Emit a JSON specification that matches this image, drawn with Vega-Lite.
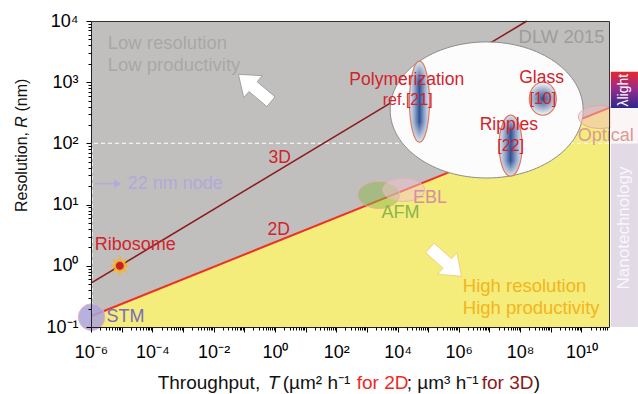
{
  "$schema": "https://vega.github.io/schema/vega-lite/v6.json",
  "width": 518,
  "height": 306,
  "autosize": {"type": "none"},
  "padding": {"left": 91, "top": 21, "right": 29, "bottom": 67},
  "background": "white",
  "config": {"view": {"fill": "#c1bfbe", "stroke": null}, "font": "Liberation Sans", "axis": {"grid": false}},
  "datasets": {
    "lines": [
      {"kind": "2D", "T": 1e-6, "R": 0.15},
      {"kind": "2D", "T": 7.94e10, "R": 380},
      {"kind": "3D", "T": 1e-6, "R": 0.52},
      {"kind": "3D", "T": 1.66e8, "R": 10000}
    ],
    "blobs": [
      {"name": "big", "T": 8.1e6, "R": 352},
      {"name": "poly", "T": 5.2e4, "R": 480},
      {"name": "glass", "T": 5.5e8, "R": 537},
      {"name": "ripples", "T": 4.9e7, "R": 92},
      {"name": "afm", "T": 2460, "R": 14.4},
      {"name": "ebl", "T": 1.6e4, "R": 17.4},
      {"name": "optical", "T": 4e10, "R": 270},
      {"name": "stm", "T": 1.05e-6, "R": 0.145},
      {"name": "ribo", "T": 8.7e-6, "R": 1.0},
      {"name": "arrowUL", "T": 0.219, "R": 803},
      {"name": "arrowDR", "T": 3.74e5, "R": 1.15},
      {"name": "nodehead", "T": 7.46e-6, "R": 22}
    ],
    "bands": [
      {"band": "light", "T0": 9.1e10, "T1": 7e11, "R0": 380, "R1": 1480},
      {"band": "optical", "T0": 9.1e10, "T1": 7e11, "R0": 100, "R1": 380},
      {"band": "nano", "T0": 9.1e10, "T1": 7e11, "R0": 0.1, "R1": 100}
    ],
    "labels": [
      {"g": "low", "text": "Low resolution", "T": 3.5e-6, "R": 4370},
      {"g": "low", "text": "Low productivity", "T": 3.5e-6, "R": 1900},
      {"g": "high", "text": "High resolution", "T": 1.35e6, "R": 0.468},
      {"g": "high", "text": "High productivity", "T": 1.35e6, "R": 0.204},
      {"g": "dlw", "text": "DLW 2015", "T": 5.7e10, "R": 5500},
      {"g": "redc", "text": "3D", "T": 1.44, "R": 57},
      {"g": "redc", "text": "2D", "T": 1.33, "R": 3.85},
      {"g": "redc", "text": "Polymerization", "T": 2e4, "R": 1090},
      {"g": "redc", "text": "Glass", "T": 5e8, "R": 1170},
      {"g": "redc", "text": "Ripples", "T": 4.3e7, "R": 200},
      {"g": "refs", "text": "ref.[21]", "T": 2.15e4, "R": 513},
      {"g": "refs", "text": "[10]", "T": 5.5e8, "R": 540},
      {"g": "refs", "text": "[22]", "T": 4.9e7, "R": 92},
      {"g": "ribo", "text": "Ribosome", "T": 1.32e-6, "R": 2.19},
      {"g": "stm", "text": "STM", "T": 3.2e-6, "R": 0.146},
      {"g": "node", "text": "22 nm node", "T": 1.58e-5, "R": 22},
      {"g": "ebl", "text": "EBL", "T": 3.2e4, "R": 12.9},
      {"g": "afm", "text": "AFM", "T": 1.26e4, "R": 7.3},
      {"g": "opt", "text": "Optical", "T": 7.6e9, "R": 132},
      {"g": "nano", "text": "Nanotechnology", "T": 2.4e11, "R": 4.15},
      {"g": "light", "text": "λlight", "T": 2.4e11, "R": 740},
      {"g": "xk", "text": "Throughput,", "T": 1.5e-4, "R": 0.0122},
      {"g": "xi", "text": "T", "T": 0.582, "R": 0.0122},
      {"g": "xk", "text": "(µm² h⁻¹", "T": 1.8, "R": 0.0122},
      {"g": "xr", "text": "for 2D", "T": 467, "R": 0.0122},
      {"g": "xk", "text": "; µm³ h⁻¹", "T": 2.0e4, "R": 0.0122},
      {"g": "xd", "text": "for 3D", "T": 5.6e6, "R": 0.0122},
      {"g": "xk", "text": ")", "T": 2.8e8, "R": 0.0122},
      {"g": "yk", "text": "Resolution,", "T": 5.5e-9, "R": 7.57},
      {"g": "yi", "text": "R", "T": 5.5e-9, "R": 181},
      {"g": "yk", "text": "(nm)", "T": 5.5e-9, "R": 331}
    ]
  },
  "resolve": {"axis": {"x": "independent", "y": "independent"}},
  "layer": [
    {
      "data": {"name": "lines"},
      "transform": [{"filter": "datum.kind == '2D'"}],
      "mark": {"type": "area", "color": "#f4ec7b", "opacity": 1},
      "encoding": {
        "x": {"field": "T", "type": "quantitative", "scale": {"type": "log", "domain": [1e-6, 7.94e10], "nice": false},
          "axis": {"orient": "bottom", "values": [1e-6, 1e-5, 1e-4, 1e-3, 1e-2, 1e-1, 1, 10, 100, 1e3, 1e4, 1e5, 1e6, 1e7, 1e8, 1e9, 1e10],
            "labelExpr": "round(log(datum.value)/LN10) % 2 == 0 ? '10' + replace(replace(replace(replace(replace(replace(replace(replace(replace(replace(replace(toString(round(log(datum.value)/LN10)),'-','⁻'),'0','⁰'),'1','¹'),'2','²'),'3','³'),'4','⁴'),'5','⁵'),'6','⁶'),'7','⁷'),'8','⁸'),'9','⁹') : ''",
            "tickSize": 5, "tickColor": "#000", "domainColor": "#222", "labelFontSize": 18, "labelColor": "#000", "labelPadding": 11,
            "labelOverlap": false, "labelFlush": false, "labelBound": false, "title": null, "zindex": 1, "grid": false, "labelFont": "Liberation Sans"}},
        "y": {"field": "R", "type": "quantitative", "scale": {"type": "log", "domain": [0.1, 10000], "nice": false},
          "axis": {"orient": "left", "values": [0.1, 1, 10, 100, 1000, 10000],
            "labelExpr": "'10' + replace(replace(replace(replace(replace(replace(replace(replace(replace(replace(replace(toString(round(log(datum.value)/LN10)),'-','⁻'),'0','⁰'),'1','¹'),'2','²'),'3','³'),'4','⁴'),'5','⁵'),'6','⁶'),'7','⁷'),'8','⁸'),'9','⁹')",
            "tickSize": 5, "tickColor": "#000", "domainColor": "#222", "labelFontSize": 18, "labelColor": "#000", "labelPadding": 8,
            "labelOverlap": false, "labelFlush": false, "labelBound": false, "title": null, "zindex": 1, "grid": false, "labelFont": "Liberation Sans"}},
        "y2": {"datum": 0.1}
      }
    },
    {
      "data": {"values": [{"R": 100}]},
      "mark": {"type": "rule", "color": "#f2f2f2", "strokeDash": [4, 3], "strokeWidth": 1.2},
      "encoding": {"y": {"field": "R", "type": "quantitative", "scale": {"type": "log", "domain": [0.1, 10000], "nice": false}, "axis": null}}
    },
    {
      "data": {"values": [{"T": 1.1e-6, "R": 0.1, "R2": 100}]},
      "mark": {"type": "rule", "color": "#f2f2f2", "strokeDash": [4, 3], "strokeWidth": 1.2},
      "encoding": {
        "x": {"field": "T", "type": "quantitative", "scale": {"type": "log", "domain": [1e-6, 7.94e10], "nice": false}, "axis": null},
        "y": {"field": "R", "type": "quantitative", "scale": {"type": "log", "domain": [0.1, 10000], "nice": false}, "axis": null},
        "y2": {"field": "R2"}
      }
    },
    {
      "data": {"name": "lines"},
      "transform": [{"filter": "datum.kind == '2D'"}],
      "mark": {"type": "line", "color": "#ee3124", "strokeWidth": 2},
      "encoding": {
        "x": {"field": "T", "type": "quantitative", "scale": {"type": "log", "domain": [1e-6, 7.94e10], "nice": false},
          "axis": {"orient": "bottom", "values": [2e-6,3e-6,4e-6,5e-6,6e-6,7e-6,8e-6,9e-6,2e-5,3e-5,4e-5,5e-5,6e-5,7e-5,8e-5,9e-5,2e-4,3e-4,4e-4,5e-4,6e-4,7e-4,8e-4,9e-4,2e-3,3e-3,4e-3,5e-3,6e-3,7e-3,8e-3,9e-3,2e-2,3e-2,4e-2,5e-2,6e-2,7e-2,8e-2,9e-2,0.2,0.3,0.4,0.5,0.6,0.7,0.8,0.9,2,3,4,5,6,7,8,9,20,30,40,50,60,70,80,90,200,300,400,500,600,700,800,900,2e3,3e3,4e3,5e3,6e3,7e3,8e3,9e3,2e4,3e4,4e4,5e4,6e4,7e4,8e4,9e4,2e5,3e5,4e5,5e5,6e5,7e5,8e5,9e5,2e6,3e6,4e6,5e6,6e6,7e6,8e6,9e6,2e7,3e7,4e7,5e7,6e7,7e7,8e7,9e7,2e8,3e8,4e8,5e8,6e8,7e8,8e8,9e8,2e9,3e9,4e9,5e9,6e9,7e9,8e9,9e9,2e10,3e10,4e10,5e10,6e10,7e10],
            "labels": false, "tickSize": 3, "tickColor": "#000", "domain": false, "title": null, "zindex": 1, "grid": false}},
        "y": {"field": "R", "type": "quantitative", "scale": {"type": "log", "domain": [0.1, 10000], "nice": false},
          "axis": {"orient": "left", "values": [0.2,0.3,0.4,0.5,0.6,0.7,0.8,0.9,2,3,4,5,6,7,8,9,20,30,40,50,60,70,80,90,200,300,400,500,600,700,800,900,2000,3000,4000,5000,6000,7000,8000,9000],
            "labels": false, "tickSize": 3, "tickColor": "#000", "domain": false, "title": null, "zindex": 1, "grid": false}}
      }
    },
    {
      "data": {"name": "lines"},
      "transform": [{"filter": "datum.kind == '3D'"}],
      "mark": {"type": "line", "color": "#8a1b1b", "strokeWidth": 1.6},
      "encoding": {
        "x": {"field": "T", "type": "quantitative", "scale": {"type": "log", "domain": [1e-6, 7.94e10], "nice": false},
          "axis": {"orient": "top", "ticks": false, "labels": false, "domain": true, "domainColor": "#333", "title": null, "zindex": 1, "grid": false}},
        "y": {"field": "R", "type": "quantitative", "scale": {"type": "log", "domain": [0.1, 10000], "nice": false},
          "axis": {"orient": "right", "ticks": false, "labels": false, "domain": true, "domainColor": "#333", "title": null, "zindex": 1, "grid": false}}
      }
    },
    {
      "data": {"name": "blobs"},
      "transform": [{"filter": "datum.name == 'big'"}],
      "mark": {"type": "point", "shape": "M-1,0C-1,-0.389,-0.552,-0.705,0,-0.705C0.552,-0.705,1,-0.389,1,0C1,0.389,0.552,0.705,0,0.705C-0.552,0.705,-1,0.389,-1,0Z", "size": 37249, "filled": true, "fill": "#fcfcfd", "stroke": "#8c8c8c", "strokeWidth": 1, "opacity": 1},
      "encoding": {
        "x": {"field": "T", "type": "quantitative", "scale": {"type": "log", "domain": [1e-6, 7.94e10], "nice": false}, "axis": null},
        "y": {"field": "R", "type": "quantitative", "scale": {"type": "log", "domain": [0.1, 10000], "nice": false}, "axis": null}
      }
    },
    {
      "data": {"name": "blobs"},
      "transform": [{"filter": "datum.name == 'poly'"}],
      "mark": {"type": "point", "shape": "M-0.247,0C-0.247,-0.552,-0.136,-1,0,-1C0.136,-1,0.247,-0.552,0.247,0C0.247,0.552,0.136,1,0,1C-0.136,1,-0.247,0.552,-0.247,0Z", "size": 6561, "filled": true,
        "fill": {"gradient": "linear", "x1": 0, "y1": 0, "x2": 1, "y2": 0, "stops": [{"offset": 0, "color": "#e4e9f2"}, {"offset": 0.22, "color": "#9fb2d3"}, {"offset": 0.5, "color": "#2f5292"}, {"offset": 0.78, "color": "#9fb2d3"}, {"offset": 1, "color": "#e4e9f2"}]}, "opacity": 1},
      "encoding": {
        "x": {"field": "T", "type": "quantitative", "scale": {"type": "log", "domain": [1e-6, 7.94e10], "nice": false}, "axis": null},
        "y": {"field": "R", "type": "quantitative", "scale": {"type": "log", "domain": [0.1, 10000], "nice": false}, "axis": null}
      }
    },
    {
      "data": {"name": "blobs"},
      "transform": [{"filter": "datum.name == 'poly'"}],
      "mark": {"type": "point", "shape": "M-0.247,0C-0.247,-0.552,-0.136,-1,0,-1C0.136,-1,0.247,-0.552,0.247,0C0.247,0.552,0.136,1,0,1C-0.136,1,-0.247,0.552,-0.247,0Z", "size": 6561, "filled": true,
        "fill": {"gradient": "linear", "x1": 0, "y1": 0, "x2": 0, "y2": 1, "stops": [{"offset": 0, "color": "rgba(228,233,242,1)"}, {"offset": 0.25, "color": "rgba(228,233,242,0)"}, {"offset": 0.75, "color": "rgba(228,233,242,0)"}, {"offset": 1, "color": "rgba(228,233,242,1)"}]},
        "stroke": "#e07a5a", "strokeWidth": 1.2, "opacity": 1},
      "encoding": {
        "x": {"field": "T", "type": "quantitative", "scale": {"type": "log", "domain": [1e-6, 7.94e10], "nice": false}, "axis": null},
        "y": {"field": "R", "type": "quantitative", "scale": {"type": "log", "domain": [0.1, 10000], "nice": false}, "axis": null}
      }
    },
    {
      "data": {"name": "blobs"},
      "transform": [{"filter": "datum.name == 'ripples'"}],
      "mark": {"type": "point", "shape": "M-0.377,0C-0.377,-0.552,-0.208,-1,0,-1C0.208,-1,0.377,-0.552,0.377,0C0.377,0.552,0.208,1,0,1C-0.208,1,-0.377,0.552,-0.377,0Z", "size": 3721, "filled": true,
        "fill": {"gradient": "linear", "x1": 0, "y1": 0, "x2": 1, "y2": 0, "stops": [{"offset": 0, "color": "#e4e9f2"}, {"offset": 0.22, "color": "#9fb2d3"}, {"offset": 0.5, "color": "#2f5292"}, {"offset": 0.78, "color": "#9fb2d3"}, {"offset": 1, "color": "#e4e9f2"}]}, "opacity": 1},
      "encoding": {
        "x": {"field": "T", "type": "quantitative", "scale": {"type": "log", "domain": [1e-6, 7.94e10], "nice": false}, "axis": null},
        "y": {"field": "R", "type": "quantitative", "scale": {"type": "log", "domain": [0.1, 10000], "nice": false}, "axis": null}
      }
    },
    {
      "data": {"name": "blobs"},
      "transform": [{"filter": "datum.name == 'ripples'"}],
      "mark": {"type": "point", "shape": "M-0.377,0C-0.377,-0.552,-0.208,-1,0,-1C0.208,-1,0.377,-0.552,0.377,0C0.377,0.552,0.208,1,0,1C-0.208,1,-0.377,0.552,-0.377,0Z", "size": 3721, "filled": true,
        "fill": {"gradient": "linear", "x1": 0, "y1": 0, "x2": 0, "y2": 1, "stops": [{"offset": 0, "color": "rgba(228,233,242,1)"}, {"offset": 0.25, "color": "rgba(228,233,242,0)"}, {"offset": 0.75, "color": "rgba(228,233,242,0)"}, {"offset": 1, "color": "rgba(228,233,242,1)"}]},
        "stroke": "#e07a5a", "strokeWidth": 1.2, "opacity": 1},
      "encoding": {
        "x": {"field": "T", "type": "quantitative", "scale": {"type": "log", "domain": [1e-6, 7.94e10], "nice": false}, "axis": null},
        "y": {"field": "R", "type": "quantitative", "scale": {"type": "log", "domain": [0.1, 10000], "nice": false}, "axis": null}
      }
    },
    {
      "data": {"name": "blobs"},
      "transform": [{"filter": "datum.name == 'glass'"}],
      "mark": {"type": "point", "shape": "M-0.818,0C-0.818,-0.552,-0.452,-1,0,-1C0.452,-1,0.818,-0.552,0.818,0C0.818,0.552,0.452,1,0,1C-0.452,1,-0.818,0.552,-0.818,0Z", "size": 1089, "filled": true,
        "fill": {"gradient": "radial", "x1": 0.5, "y1": 0.5, "r1": 0, "x2": 0.5, "y2": 0.5, "r2": 0.45, "stops": [{"offset": 0, "color": "#2f5292"}, {"offset": 1, "color": "#e4e9f2"}]},
        "stroke": "#e07a5a", "strokeWidth": 1.2, "opacity": 1},
      "encoding": {
        "x": {"field": "T", "type": "quantitative", "scale": {"type": "log", "domain": [1e-6, 7.94e10], "nice": false}, "axis": null},
        "y": {"field": "R", "type": "quantitative", "scale": {"type": "log", "domain": [0.1, 10000], "nice": false}, "axis": null}
      }
    },
    {
      "data": {"name": "blobs"},
      "transform": [{"filter": "datum.name == 'afm'"}],
      "mark": {"type": "point", "shape": "M-1,0C-1,-0.355,-0.552,-0.643,0,-0.643C0.552,-0.643,1,-0.355,1,0C1,0.355,0.552,0.643,0,0.643C-0.552,0.643,-1,0.355,-1,0Z", "size": 1764, "filled": true,
        "fill": "#8cb84a", "fillOpacity": 0.5, "stroke": "#e8a8a8", "strokeWidth": 0.8, "opacity": 1},
      "encoding": {
        "x": {"field": "T", "type": "quantitative", "scale": {"type": "log", "domain": [1e-6, 7.94e10], "nice": false}, "axis": null},
        "y": {"field": "R", "type": "quantitative", "scale": {"type": "log", "domain": [0.1, 10000], "nice": false}, "axis": null}
      }
    },
    {
      "data": {"name": "blobs"},
      "transform": [{"filter": "datum.name == 'ebl'"}],
      "mark": {"type": "point", "shape": "M-1,0C-1,-0.303,-0.552,-0.548,0,-0.548C0.552,-0.548,1,-0.303,1,0C1,0.303,0.552,0.548,0,0.548C-0.552,0.548,-1,0.303,-1,0Z", "size": 1764, "filled": true,
        "fill": "#f0c4cc", "fillOpacity": 0.5, "stroke": "#e8b0b8", "strokeWidth": 0.8, "opacity": 1},
      "encoding": {
        "x": {"field": "T", "type": "quantitative", "scale": {"type": "log", "domain": [1e-6, 7.94e10], "nice": false}, "axis": null},
        "y": {"field": "R", "type": "quantitative", "scale": {"type": "log", "domain": [0.1, 10000], "nice": false}, "axis": null}
      }
    },
    {
      "data": {"name": "blobs"},
      "transform": [{"filter": "datum.name == 'optical'"}],
      "mark": {"type": "point", "shape": "M-1,0C-1,-0.295,-0.552,-0.535,0,-0.535C0.552,-0.535,1,-0.295,1,0C1,0.295,0.552,0.535,0,0.535C-0.552,0.535,-1,0.295,-1,0Z", "size": 1849, "filled": true,
        "fill": "#f0c0c0", "fillOpacity": 0.5, "stroke": "#e0a0a8", "strokeWidth": 0.8, "opacity": 1},
      "encoding": {
        "x": {"field": "T", "type": "quantitative", "scale": {"type": "log", "domain": [1e-6, 7.94e10], "nice": false}, "axis": null},
        "y": {"field": "R", "type": "quantitative", "scale": {"type": "log", "domain": [0.1, 10000], "nice": false}, "axis": null}
      }
    },
    {
      "data": {"name": "blobs"},
      "transform": [{"filter": "datum.name == 'stm'"}],
      "mark": {"type": "point", "shape": "circle", "size": 707, "filled": true, "fill": "#aca3d9", "fillOpacity": 0.85, "stroke": "#e8b0c0", "strokeWidth": 1, "opacity": 1},
      "encoding": {
        "x": {"field": "T", "type": "quantitative", "scale": {"type": "log", "domain": [1e-6, 7.94e10], "nice": false}, "axis": null},
        "y": {"field": "R", "type": "quantitative", "scale": {"type": "log", "domain": [0.1, 10000], "nice": false}, "axis": null}
      }
    },
    {
      "data": {"name": "blobs"},
      "transform": [{"filter": "datum.name == 'ribo'"}],
      "mark": {"type": "point", "shape": "M1,0L0.462,0.191L0.707,0.707L0.191,0.462L0,1L-0.191,0.462L-0.707,0.707L-0.462,0.191L-1,0L-0.462,-0.191L-0.707,-0.707L-0.191,-0.462L0,-1L0.191,-0.462L0.707,-0.707L0.462,-0.191Z", "size": 440, "filled": true, "fill": "#f2b630", "opacity": 1},
      "encoding": {
        "x": {"field": "T", "type": "quantitative", "scale": {"type": "log", "domain": [1e-6, 7.94e10], "nice": false}, "axis": null},
        "y": {"field": "R", "type": "quantitative", "scale": {"type": "log", "domain": [0.1, 10000], "nice": false}, "axis": null}
      }
    },
    {
      "data": {"name": "blobs"},
      "transform": [{"filter": "datum.name == 'ribo'"}],
      "mark": {"type": "point", "shape": "circle", "size": 75, "filled": true, "fill": "#c81e28", "stroke": "#f0a030", "strokeWidth": 0.8, "opacity": 1},
      "encoding": {
        "x": {"field": "T", "type": "quantitative", "scale": {"type": "log", "domain": [1e-6, 7.94e10], "nice": false}, "axis": null},
        "y": {"field": "R", "type": "quantitative", "scale": {"type": "log", "domain": [0.1, 10000], "nice": false}, "axis": null}
      }
    },
    {
      "data": {"name": "blobs"},
      "transform": [{"filter": "datum.name == 'arrowUL'"}],
      "mark": {"type": "point", "shape": "M-1,-0.3L0.1,-0.3L0.1,-0.68L1,0L0.1,0.68L0.1,0.3L-1,0.3Z", "size": 1800, "angle": 220, "filled": true, "fill": "#ffffff", "stroke": "#9a9a9a", "strokeWidth": 0.8, "opacity": 1},
      "encoding": {
        "x": {"field": "T", "type": "quantitative", "scale": {"type": "log", "domain": [1e-6, 7.94e10], "nice": false}, "axis": null},
        "y": {"field": "R", "type": "quantitative", "scale": {"type": "log", "domain": [0.1, 10000], "nice": false}, "axis": null}
      }
    },
    {
      "data": {"name": "blobs"},
      "transform": [{"filter": "datum.name == 'arrowDR'"}],
      "mark": {"type": "point", "shape": "M-1,-0.3L0.1,-0.3L0.1,-0.68L1,0L0.1,0.68L0.1,0.3L-1,0.3Z", "size": 1800, "angle": 42, "filled": true, "fill": "#ffffff", "stroke": "#f5c878", "strokeWidth": 0.8, "opacity": 1},
      "encoding": {
        "x": {"field": "T", "type": "quantitative", "scale": {"type": "log", "domain": [1e-6, 7.94e10], "nice": false}, "axis": null},
        "y": {"field": "R", "type": "quantitative", "scale": {"type": "log", "domain": [0.1, 10000], "nice": false}, "axis": null}
      }
    },
    {
      "data": {"values": [{"T": 1.32e-6, "T2": 7.0e-6, "R": 22}]},
      "mark": {"type": "rule", "color": "#b3a9db", "strokeWidth": 1.5},
      "encoding": {
        "x": {"field": "T", "type": "quantitative", "scale": {"type": "log", "domain": [1e-6, 7.94e10], "nice": false}, "axis": null},
        "x2": {"field": "T2"},
        "y": {"field": "R", "type": "quantitative", "scale": {"type": "log", "domain": [0.1, 10000], "nice": false}, "axis": null}
      }
    },
    {
      "data": {"name": "blobs"},
      "transform": [{"filter": "datum.name == 'nodehead'"}],
      "mark": {"type": "point", "shape": "triangle-right", "size": 70, "filled": true, "fill": "#b3a9db", "opacity": 1},
      "encoding": {
        "x": {"field": "T", "type": "quantitative", "scale": {"type": "log", "domain": [1e-6, 7.94e10], "nice": false}, "axis": null},
        "y": {"field": "R", "type": "quantitative", "scale": {"type": "log", "domain": [0.1, 10000], "nice": false}, "axis": null}
      }
    },
    {
      "data": {"name": "bands"},
      "transform": [{"filter": "datum.band == 'light'"}],
      "mark": {"type": "rect", "fill": {"gradient": "linear", "x1": 0, "y1": 0, "x2": 0, "y2": 1, "stops": [{"offset": 0, "color": "#e8262b"}, {"offset": 0.45, "color": "#9a2b8a"}, {"offset": 1, "color": "#2b2a8c"}]}, "opacity": 1},
      "encoding": {
        "x": {"field": "T0", "type": "quantitative", "scale": {"type": "log", "domain": [1e-6, 7.94e10], "nice": false}, "axis": null},
        "x2": {"field": "T1"},
        "y": {"field": "R0", "type": "quantitative", "scale": {"type": "log", "domain": [0.1, 10000], "nice": false}, "axis": null},
        "y2": {"field": "R1"}
      }
    },
    {
      "data": {"name": "bands"},
      "transform": [{"filter": "datum.band == 'optical'"}],
      "mark": {"type": "rect", "fill": "#fcf5f5", "opacity": 1},
      "encoding": {
        "x": {"field": "T0", "type": "quantitative", "scale": {"type": "log", "domain": [1e-6, 7.94e10], "nice": false}, "axis": null},
        "x2": {"field": "T1"},
        "y": {"field": "R0", "type": "quantitative", "scale": {"type": "log", "domain": [0.1, 10000], "nice": false}, "axis": null},
        "y2": {"field": "R1"}
      }
    },
    {
      "data": {"name": "bands"},
      "transform": [{"filter": "datum.band == 'nano'"}],
      "mark": {"type": "rect", "fill": "#e2dbe7", "opacity": 1},
      "encoding": {
        "x": {"field": "T0", "type": "quantitative", "scale": {"type": "log", "domain": [1e-6, 7.94e10], "nice": false}, "axis": null},
        "x2": {"field": "T1"},
        "y": {"field": "R0", "type": "quantitative", "scale": {"type": "log", "domain": [0.1, 10000], "nice": false}, "axis": null},
        "y2": {"field": "R1"}
      }
    },
    {
      "data": {"name": "labels"},
      "transform": [{"filter": "datum.g == 'low'"}],
      "mark": {"type": "text", "color": "#a9a7a6", "fontSize": 18.5, "align": "left", "baseline": "middle"},
      "encoding": {
        "x": {"field": "T", "type": "quantitative", "scale": {"type": "log", "domain": [1e-6, 7.94e10], "nice": false}, "axis": null},
        "y": {"field": "R", "type": "quantitative", "scale": {"type": "log", "domain": [0.1, 10000], "nice": false}, "axis": null},
        "text": {"field": "text"}
      }
    },
    {
      "data": {"name": "labels"},
      "transform": [{"filter": "datum.g == 'high'"}],
      "mark": {"type": "text", "color": "#f4b41c", "fontSize": 18.5, "align": "left", "baseline": "middle"},
      "encoding": {
        "x": {"field": "T", "type": "quantitative", "scale": {"type": "log", "domain": [1e-6, 7.94e10], "nice": false}, "axis": null},
        "y": {"field": "R", "type": "quantitative", "scale": {"type": "log", "domain": [0.1, 10000], "nice": false}, "axis": null},
        "text": {"field": "text"}
      }
    },
    {
      "data": {"name": "labels"},
      "transform": [{"filter": "datum.g == 'dlw'"}],
      "mark": {"type": "text", "color": "#9e9c9b", "fontSize": 18.5, "align": "right", "baseline": "middle"},
      "encoding": {
        "x": {"field": "T", "type": "quantitative", "scale": {"type": "log", "domain": [1e-6, 7.94e10], "nice": false}, "axis": null},
        "y": {"field": "R", "type": "quantitative", "scale": {"type": "log", "domain": [0.1, 10000], "nice": false}, "axis": null},
        "text": {"field": "text"}
      }
    },
    {
      "data": {"name": "labels"},
      "transform": [{"filter": "datum.g == 'redc'"}],
      "mark": {"type": "text", "color": "#d2232a", "fontSize": 17.5, "align": "center", "baseline": "middle"},
      "encoding": {
        "x": {"field": "T", "type": "quantitative", "scale": {"type": "log", "domain": [1e-6, 7.94e10], "nice": false}, "axis": null},
        "y": {"field": "R", "type": "quantitative", "scale": {"type": "log", "domain": [0.1, 10000], "nice": false}, "axis": null},
        "text": {"field": "text"}
      }
    },
    {
      "data": {"name": "labels"},
      "transform": [{"filter": "datum.g == 'refs'"}],
      "mark": {"type": "text", "color": "#d2232a", "fontSize": 16, "align": "center", "baseline": "middle"},
      "encoding": {
        "x": {"field": "T", "type": "quantitative", "scale": {"type": "log", "domain": [1e-6, 7.94e10], "nice": false}, "axis": null},
        "y": {"field": "R", "type": "quantitative", "scale": {"type": "log", "domain": [0.1, 10000], "nice": false}, "axis": null},
        "text": {"field": "text"}
      }
    },
    {
      "data": {"name": "labels"},
      "transform": [{"filter": "datum.g == 'ribo'"}],
      "mark": {"type": "text", "color": "#d2232a", "fontSize": 18, "align": "left", "baseline": "middle"},
      "encoding": {
        "x": {"field": "T", "type": "quantitative", "scale": {"type": "log", "domain": [1e-6, 7.94e10], "nice": false}, "axis": null},
        "y": {"field": "R", "type": "quantitative", "scale": {"type": "log", "domain": [0.1, 10000], "nice": false}, "axis": null},
        "text": {"field": "text"}
      }
    },
    {
      "data": {"name": "labels"},
      "transform": [{"filter": "datum.g == 'stm'"}],
      "mark": {"type": "text", "color": "#7a6bbf", "fontSize": 18, "align": "left", "baseline": "middle"},
      "encoding": {
        "x": {"field": "T", "type": "quantitative", "scale": {"type": "log", "domain": [1e-6, 7.94e10], "nice": false}, "axis": null},
        "y": {"field": "R", "type": "quantitative", "scale": {"type": "log", "domain": [0.1, 10000], "nice": false}, "axis": null},
        "text": {"field": "text"}
      }
    },
    {
      "data": {"name": "labels"},
      "transform": [{"filter": "datum.g == 'node'"}],
      "mark": {"type": "text", "color": "#b2a8da", "fontSize": 18, "align": "left", "baseline": "middle"},
      "encoding": {
        "x": {"field": "T", "type": "quantitative", "scale": {"type": "log", "domain": [1e-6, 7.94e10], "nice": false}, "axis": null},
        "y": {"field": "R", "type": "quantitative", "scale": {"type": "log", "domain": [0.1, 10000], "nice": false}, "axis": null},
        "text": {"field": "text"}
      }
    },
    {
      "data": {"name": "labels"},
      "transform": [{"filter": "datum.g == 'ebl'"}],
      "mark": {"type": "text", "color": "#d48fa6", "fontSize": 18, "align": "left", "baseline": "middle"},
      "encoding": {
        "x": {"field": "T", "type": "quantitative", "scale": {"type": "log", "domain": [1e-6, 7.94e10], "nice": false}, "axis": null},
        "y": {"field": "R", "type": "quantitative", "scale": {"type": "log", "domain": [0.1, 10000], "nice": false}, "axis": null},
        "text": {"field": "text"}
      }
    },
    {
      "data": {"name": "labels"},
      "transform": [{"filter": "datum.g == 'afm'"}],
      "mark": {"type": "text", "color": "#8ab44c", "fontSize": 18, "align": "center", "baseline": "middle"},
      "encoding": {
        "x": {"field": "T", "type": "quantitative", "scale": {"type": "log", "domain": [1e-6, 7.94e10], "nice": false}, "axis": null},
        "y": {"field": "R", "type": "quantitative", "scale": {"type": "log", "domain": [0.1, 10000], "nice": false}, "axis": null},
        "text": {"field": "text"}
      }
    },
    {
      "data": {"name": "labels"},
      "transform": [{"filter": "datum.g == 'opt'"}],
      "mark": {"type": "text", "color": "#d99a9a", "fontSize": 18, "align": "left", "baseline": "middle"},
      "encoding": {
        "x": {"field": "T", "type": "quantitative", "scale": {"type": "log", "domain": [1e-6, 7.94e10], "nice": false}, "axis": null},
        "y": {"field": "R", "type": "quantitative", "scale": {"type": "log", "domain": [0.1, 10000], "nice": false}, "axis": null},
        "text": {"field": "text"}
      }
    },
    {
      "data": {"name": "labels"},
      "transform": [{"filter": "datum.g == 'nano'"}],
      "mark": {"type": "text", "color": "#f9f7fb", "fontSize": 17, "align": "center", "baseline": "middle", "angle": 270},
      "encoding": {
        "x": {"field": "T", "type": "quantitative", "scale": {"type": "log", "domain": [1e-6, 7.94e10], "nice": false}, "axis": null},
        "y": {"field": "R", "type": "quantitative", "scale": {"type": "log", "domain": [0.1, 10000], "nice": false}, "axis": null},
        "text": {"field": "text"}
      }
    },
    {
      "data": {"name": "labels"},
      "transform": [{"filter": "datum.g == 'light'"}],
      "mark": {"type": "text", "color": "#ffffff", "fontSize": 14, "align": "center", "baseline": "middle", "angle": 270},
      "encoding": {
        "x": {"field": "T", "type": "quantitative", "scale": {"type": "log", "domain": [1e-6, 7.94e10], "nice": false}, "axis": null},
        "y": {"field": "R", "type": "quantitative", "scale": {"type": "log", "domain": [0.1, 10000], "nice": false}, "axis": null},
        "text": {"field": "text"}
      }
    },
    {
      "data": {"name": "labels"},
      "transform": [{"filter": "datum.g == 'xk'"}],
      "mark": {"type": "text", "color": "#111111", "fontSize": 19, "align": "left", "baseline": "middle"},
      "encoding": {
        "x": {"field": "T", "type": "quantitative", "scale": {"type": "log", "domain": [1e-6, 7.94e10], "nice": false}, "axis": null},
        "y": {"field": "R", "type": "quantitative", "scale": {"type": "log", "domain": [0.1, 10000], "nice": false}, "axis": null},
        "text": {"field": "text"}
      }
    },
    {
      "data": {"name": "labels"},
      "transform": [{"filter": "datum.g == 'xi'"}],
      "mark": {"type": "text", "color": "#111111", "fontSize": 19, "fontStyle": "italic", "align": "left", "baseline": "middle"},
      "encoding": {
        "x": {"field": "T", "type": "quantitative", "scale": {"type": "log", "domain": [1e-6, 7.94e10], "nice": false}, "axis": null},
        "y": {"field": "R", "type": "quantitative", "scale": {"type": "log", "domain": [0.1, 10000], "nice": false}, "axis": null},
        "text": {"field": "text"}
      }
    },
    {
      "data": {"name": "labels"},
      "transform": [{"filter": "datum.g == 'xr'"}],
      "mark": {"type": "text", "color": "#ee2a24", "fontSize": 19, "align": "left", "baseline": "middle"},
      "encoding": {
        "x": {"field": "T", "type": "quantitative", "scale": {"type": "log", "domain": [1e-6, 7.94e10], "nice": false}, "axis": null},
        "y": {"field": "R", "type": "quantitative", "scale": {"type": "log", "domain": [0.1, 10000], "nice": false}, "axis": null},
        "text": {"field": "text"}
      }
    },
    {
      "data": {"name": "labels"},
      "transform": [{"filter": "datum.g == 'xd'"}],
      "mark": {"type": "text", "color": "#8b1a1a", "fontSize": 19, "align": "left", "baseline": "middle"},
      "encoding": {
        "x": {"field": "T", "type": "quantitative", "scale": {"type": "log", "domain": [1e-6, 7.94e10], "nice": false}, "axis": null},
        "y": {"field": "R", "type": "quantitative", "scale": {"type": "log", "domain": [0.1, 10000], "nice": false}, "axis": null},
        "text": {"field": "text"}
      }
    },
    {
      "data": {"name": "labels"},
      "transform": [{"filter": "datum.g == 'yk'"}],
      "mark": {"type": "text", "color": "#111111", "fontSize": 16, "align": "left", "baseline": "middle", "angle": 270},
      "encoding": {
        "x": {"field": "T", "type": "quantitative", "scale": {"type": "log", "domain": [1e-6, 7.94e10], "nice": false}, "axis": null},
        "y": {"field": "R", "type": "quantitative", "scale": {"type": "log", "domain": [0.1, 10000], "nice": false}, "axis": null},
        "text": {"field": "text"}
      }
    },
    {
      "data": {"name": "labels"},
      "transform": [{"filter": "datum.g == 'yi'"}],
      "mark": {"type": "text", "color": "#111111", "fontSize": 16, "fontStyle": "italic", "align": "left", "baseline": "middle", "angle": 270},
      "encoding": {
        "x": {"field": "T", "type": "quantitative", "scale": {"type": "log", "domain": [1e-6, 7.94e10], "nice": false}, "axis": null},
        "y": {"field": "R", "type": "quantitative", "scale": {"type": "log", "domain": [0.1, 10000], "nice": false}, "axis": null},
        "text": {"field": "text"}
      }
    }
  ]
}
